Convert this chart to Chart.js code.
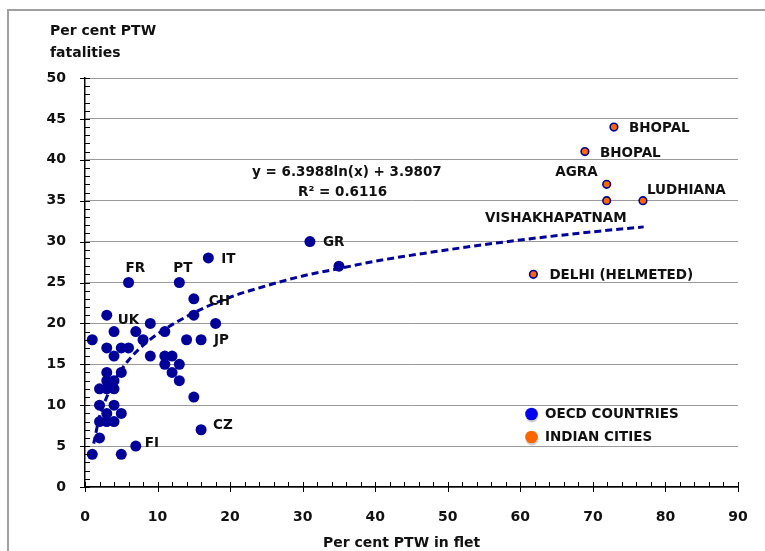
<!DOCTYPE html>
<html>
<head>
<meta charset="utf-8">
<script src="https://cdn.jsdelivr.net/npm/chart.js@4.4.1/dist/chart.umd.min.js"></script>
<style>
  body { margin: 0; background: #fff; }
  #wrap { width: 765px; height: 551px; }
</style>
</head>
<body>
<div id="wrap"><canvas id="ptwChart" width="765" height="551"></canvas></div>
<script>
// OECD countries: per cent PTW in fleet (x) and per cent PTW fatalities (y)
const oecdX = [1, 1, 6, 13, 17, 15, 15, 18, 3, 9, 4, 7, 11, 8, 14, 16, 3, 5, 6, 4, 9, 11, 12, 11, 13, 12, 13, 15, 16, 7, 5, 5, 3, 2, 3, 4, 3, 4, 2, 4, 3, 5, 2, 3, 4, 2, 31, 35];
const oecdY = [4, 18, 25, 25, 28, 23, 21, 20, 21, 20, 19, 19, 19, 18, 18, 18, 17, 17, 17, 16, 16, 16, 16, 15, 15, 14, 13, 11, 7, 5, 4, 14, 14, 12, 12, 12, 13, 13, 10, 10, 9, 9, 8, 8, 8, 6, 30, 27];
const oecdNames = ['', '', 'FR', 'PT', 'IT', 'CH', '', '', 'UK', '', '', '', '', '', '', 'JP', '', '', '', '', '', '', '', '', '', '', '', '', 'CZ', 'FI', '', '', '', '', '', '', '', '', '', '', '', '', '', '', '', '', 'GR', ''];

// Indian cities
const cityNames = ['BHOPAL', 'BHOPAL', 'AGRA', 'VISHAKHAPATNAM', 'LUDHIANA', 'DELHI (HELMETED)'];
const cityX = [72.9, 68.9, 71.9, 71.9, 76.9, 61.8];
const cityY = [44, 41, 37, 35, 35, 26];

// log trend line
const trendX = [1.2, 2, 3, 4, 6, 8, 10, 15, 20, 25, 30, 35, 40, 50, 60, 70, 77];
const trendY = [5.3, 8.6, 11, 12.9, 15.5, 17.3, 18.7, 21.3, 23.2, 24.6, 25.8, 26.7, 27.6, 29.0, 30.2, 31.2, 31.8];

const trendText = 'y = 6.3988ln(x) + 3.9807';
const r2Text = 'R² = 0.6116';
const yTitle = ['Per cent PTW', 'fatalities'];
const xTitle = 'Per cent PTW in flet';
const legendNames = ['OECD COUNTRIES', 'INDIAN CITIES'];

const FONT = 'DejaVu Sans';
const NAVY = '#000099';
const ORANGE = '#ff6600';

// label offsets (px) from the point, [dx, dy, align]
const labelOffsets = {
    FR: [-3, -14, 'left'], PT: [-6, -14, 'left'], IT: [13, 2, 'left'], CH: [15, 3, 'left'],
    UK: [11, 5, 'left'], JP: [13, 1, 'left'], CZ: [12, -4, 'left'], FI: [9, -3, 'left'],
    GR: [13, 1, 'left']
};
const cityOffsets = [[15, 1, 'left'], [15, 2, 'left'], [-9, -12, 'right'], [20, 18, 'right'], [4, -10, 'left'], [16, 1, 'left']];

const zip = (xs, ys) => xs.map((x, i) => ({ x: x, y: ys[i] }));

const overlay = {
    id: 'overlay',
    beforeDraw(chart) {
        const ctx = chart.ctx;
        ctx.save();
        ctx.strokeStyle = '#a0a0a0';
        ctx.lineWidth = 2;
        ctx.beginPath();
        ctx.moveTo(8, 560);
        ctx.lineTo(8, 10);
        ctx.lineTo(775, 10);
        ctx.stroke();
        ctx.restore();
    },
    afterDraw(chart) {
        const { ctx, chartArea, scales } = chart;
        const xs = scales.x, ys = scales.y;
        ctx.save();

        // tick marks
        ctx.strokeStyle = '#000';
        ctx.lineWidth = 1;
        ctx.beginPath();
        for (let v = 0; v <= 50; v++) {
            const p = Math.round(ys.getPixelForValue(v)) + 0.5;
            ctx.moveTo(chartArea.left - (v % 5 === 0 ? 5 : 0), p);
            ctx.lineTo(chartArea.left + 5, p);
        }
        for (let v = 0; v <= 90; v += 2) {
            const p = Math.round(xs.getPixelForValue(v)) + 0.5;
            ctx.moveTo(p, chartArea.bottom - 5);
            ctx.lineTo(p, chartArea.bottom + (v % 10 === 0 ? 5 : 0));
        }
        ctx.stroke();

        ctx.fillStyle = '#111';
        ctx.textBaseline = 'middle';
        ctx.font = 'bold 13.5px "' + FONT + '"';

        // point labels
        oecdNames.forEach((name, i) => {
            if (!name) return;
            const o = labelOffsets[name];
            ctx.textAlign = o[2];
            ctx.fillText(name, xs.getPixelForValue(oecdX[i]) + o[0], ys.getPixelForValue(oecdY[i]) + o[1]);
        });
        cityNames.forEach((name, i) => {
            const o = cityOffsets[i];
            ctx.textAlign = o[2];
            ctx.fillText(name, xs.getPixelForValue(cityX[i]) + o[0], ys.getPixelForValue(cityY[i]) + o[1]);
        });

        // trend equation
        ctx.textAlign = 'left';
        ctx.fillText(trendText, 252, 172);
        ctx.fillText(r2Text, 298, 192);

        // axis titles
        ctx.font = 'bold 14px "' + FONT + '"';
        ctx.fillText(yTitle[0], 50, 31);
        ctx.fillText(yTitle[1], 50, 53);
        ctx.fillText(xTitle, 323, 543);

        // legend
        const legendColors = ['#0000ee', ORANGE];
        ctx.font = 'bold 13.5px "' + FONT + '"';
        legendNames.forEach((name, i) => {
            const cy = 414 + i * 23;
            ctx.fillStyle = 'rgba(0,0,0,0.18)';
            ctx.beginPath();
            ctx.arc(532, cy + 2, 6.5, 0, Math.PI * 2);
            ctx.fill();
            ctx.fillStyle = legendColors[i];
            ctx.beginPath();
            ctx.arc(531.5, cy, 6.3, 0, Math.PI * 2);
            ctx.fill();
            ctx.fillStyle = '#111';
            ctx.fillText(name, 545, cy);
        });
        ctx.restore();
    }
};

new Chart(document.getElementById('ptwChart'), {
    type: 'scatter',
    data: {
        datasets: [
            {
                label: 'trend',
                type: 'line',
                data: zip(trendX, trendY),
                borderColor: NAVY,
                borderWidth: 3,
                borderDash: [7, 4],
                pointRadius: 0,
                fill: false,
                cubicInterpolationMode: 'monotone',
                order: 0
            },
            {
                label: legendNames[1],
                data: zip(cityX, cityY),
                backgroundColor: ORANGE,
                borderColor: NAVY,
                borderWidth: 1.6,
                pointRadius: 3.8,
                order: 1
            },
            {
                label: legendNames[0],
                data: zip(oecdX, oecdY),
                backgroundColor: NAVY,
                borderColor: NAVY,
                borderWidth: 0,
                pointRadius: 5.5,
                order: 2
            }
        ]
    },
    options: {
        responsive: false,
        animation: false,
        layout: { padding: { top: 78, right: 27, left: 0, bottom: 0 } },
        plugins: { legend: { display: false }, tooltip: { enabled: false } },
        scales: {
            x: {
                type: 'linear',
                min: 0, max: 90,
                afterFit: s => { s.height = 64; s.paddingLeft = 0; s.paddingRight = 0; },
                grid: { display: false, drawTicks: false },
                border: { color: '#000', width: 1.5 },
                ticks: {
                    stepSize: 10, padding: 22, color: '#111',
                    font: { family: FONT, size: 14, weight: 'bold' }
                }
            },
            y: {
                min: 0, max: 50,
                afterFit: s => { s.width = 85; s.paddingTop = 0; s.paddingBottom = 0; },
                grid: { color: '#9a9a9a', lineWidth: 1, drawTicks: false },
                border: { color: '#000', width: 1.5 },
                ticks: {
                    stepSize: 5, padding: 19, color: '#111',
                    font: { family: FONT, size: 14, weight: 'bold' }
                }
            }
        }
    },
    plugins: [overlay]
});
</script>
</body>
</html>
